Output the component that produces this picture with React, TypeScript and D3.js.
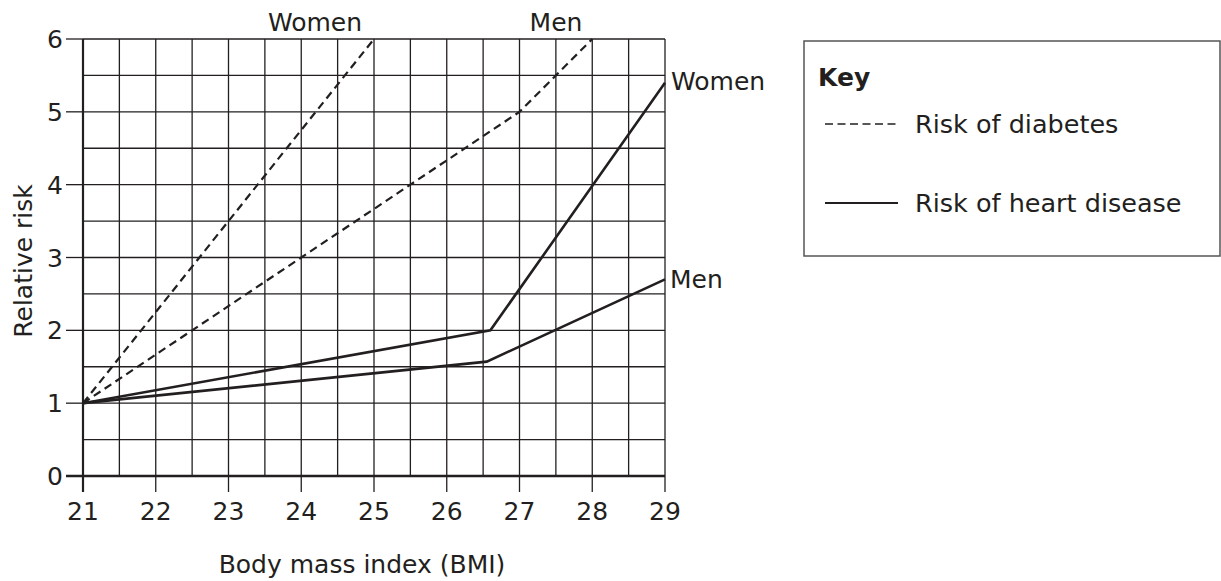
import React from 'react';
import * as d3 from 'd3';

// BMI ticks and risk ticks
const bmiTicks = [21, 22, 23, 24, 25, 26, 27, 28, 29];
const riskTicks = [0, 1, 2, 3, 4, 5, 6];
const bmiGrid = d3.range(21, 29.01, 0.5);
const riskGrid = d3.range(0, 6.01, 0.5);

// series: [bmi, relative risk]
const diabetesWomen: [number, number][] = [[21, 1], [25, 6]];
const diabetesMen: [number, number][] = [[21, 1], [22.5, 2], [24, 3], [25.5, 4], [27, 5], [28, 6]];
const heartWomen: [number, number][] = [[21, 1], [26.6, 2], [29, 5.4]];
const heartMen: [number, number][] = [[21, 1], [26.55, 1.57], [29, 2.7]];

const font = '"DejaVu Sans", Verdana, sans-serif';
const ink = '#231f20';

export default function App() {
  const x = d3.scaleLinear().domain([21, 29]).range([83, 665]);
  const y = d3.scaleLinear().domain([0, 6]).range([476, 39]);
  const line = d3.line<[number, number]>().x(d => x(d[0])).y(d => y(d[1]));

  return (
    <div style={{ position: 'absolute', left: 0, top: 0 }}>
      <svg width={1221} height={581} style={{ display: 'block', background: '#fff' }} fontFamily={font}>
        {/* grid */}
        {bmiGrid.map(v => (
          <line key={'gx' + v} x1={x(v)} x2={x(v)} y1={y(0)} y2={y(6)} stroke={ink} strokeWidth={1.3} />
        ))}
        {riskGrid.map(v => (
          <line key={'gy' + v} x1={x(21)} x2={x(29)} y1={y(v)} y2={y(v)} stroke={ink} strokeWidth={1.3} />
        ))}

        {/* axes */}
        <line x1={x(21)} x2={x(21)} y1={y(6)} y2={y(0) + 16} stroke={ink} strokeWidth={2.2} />
        <line x1={x(21) - 17} x2={x(29)} y1={y(0)} y2={y(0)} stroke={ink} strokeWidth={2.6} />
        {riskTicks.map(v => (
          <g key={'ty' + v}>
            <line x1={x(21) - 17} x2={x(21)} y1={y(v)} y2={y(v)} stroke={ink} strokeWidth={1.3} />
            <text x={x(21) - 20} y={y(v) + 9} textAnchor="end" fontSize={25} fill={ink}>{v}</text>
          </g>
        ))}
        {bmiTicks.map(v => (
          <g key={'tx' + v}>
            <line x1={x(v)} x2={x(v)} y1={y(0)} y2={y(0) + 16} stroke={ink} strokeWidth={1.3} />
            <text x={x(v)} y={520} textAnchor="middle" fontSize={25} fill={ink}>{v}</text>
          </g>
        ))}

        <text x={362} y={573} textAnchor="middle" fontSize={25} fill={ink}>Body mass index (BMI)</text>
        <text transform={`translate(32,261) rotate(-90)`} textAnchor="middle" fontSize={25} fill={ink}>Relative risk</text>

        {/* series */}
        <path d={line(diabetesWomen) || ''} fill="none" stroke={ink} strokeWidth={2.2} strokeDasharray="8 5" />
        <path d={line(diabetesMen) || ''} fill="none" stroke={ink} strokeWidth={2.2} strokeDasharray="8 5" />
        <path d={line(heartWomen) || ''} fill="none" stroke={ink} strokeWidth={2.6} />
        <path d={line(heartMen) || ''} fill="none" stroke={ink} strokeWidth={2.6} />

        {/* series labels */}
        <text x={315} y={31} textAnchor="middle" fontSize={25} fill={ink}>Women</text>
        <text x={556} y={31} textAnchor="middle" fontSize={25} fill={ink}>Men</text>
        <text x={671} y={90} fontSize={25} fill={ink}>Women</text>
        <text x={670} y={288} fontSize={25} fill={ink}>Men</text>

        {/* key */}
        <rect x={804} y={41} width={416} height={215} fill="none" stroke="#555" strokeWidth={1.5} />
        <text x={818} y={86} fontSize={25} fontWeight="bold" fill={ink}>Key</text>
        <line x1={825} x2={898} y1={124} y2={124} stroke={ink} strokeWidth={1.6} strokeDasharray="8 4.5" />
        <text x={915} y={133} fontSize={25.5} fill={ink}>Risk of diabetes</text>
        <line x1={825} x2={898} y1={203} y2={203} stroke={ink} strokeWidth={2} />
        <text x={915} y={212} fontSize={25.5} fill={ink}>Risk of heart disease</text>
      </svg>
    </div>
  );
}
